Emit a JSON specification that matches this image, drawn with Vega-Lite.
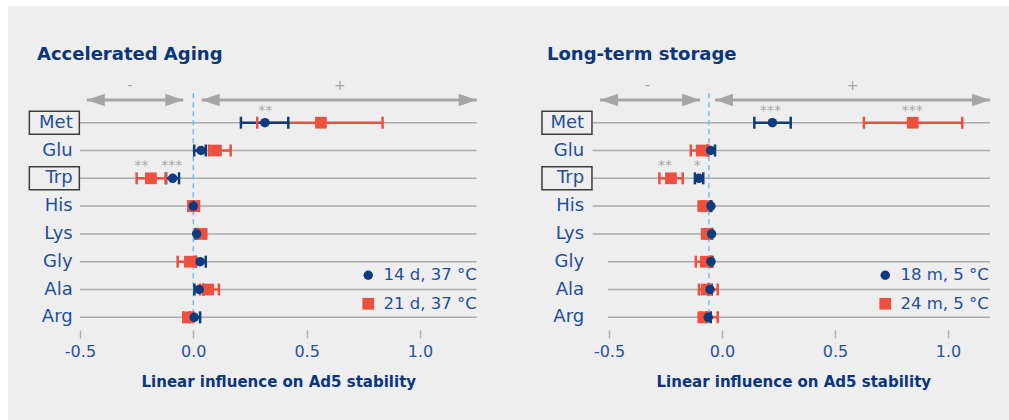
{
  "$schema": "https://vega.github.io/schema/vega-lite/v6.json",
  "background": "white",
  "padding": {"left": 8, "top": 6, "right": 0, "bottom": 0},
  "spacing": 0,
  "datasets": {
    "rows": [
      {"aa": "Met", "i": 1, "boxed": true},
      {"aa": "Glu", "i": 2, "boxed": false},
      {"aa": "Trp", "i": 3, "boxed": true},
      {"aa": "His", "i": 4, "boxed": false},
      {"aa": "Lys", "i": 5, "boxed": false},
      {"aa": "Gly", "i": 6, "boxed": false},
      {"aa": "Ala", "i": 7, "boxed": false},
      {"aa": "Arg", "i": 8, "boxed": false}
    ],
    "est": [
      {"p": "A", "s": "21 d, 37 °C", "aa": "Met", "i": 1, "v": 0.563, "lo": 0.282, "hi": 0.835},
      {"p": "A", "s": "21 d, 37 °C", "aa": "Glu", "i": 2, "v": 0.1, "lo": 0.069, "hi": 0.165},
      {"p": "A", "s": "21 d, 37 °C", "aa": "Trp", "i": 3, "v": -0.187, "lo": -0.25, "hi": -0.122},
      {"p": "A", "s": "21 d, 37 °C", "aa": "His", "i": 4, "v": 0.003, "lo": -0.022, "hi": 0.025},
      {"p": "A", "s": "21 d, 37 °C", "aa": "Lys", "i": 5, "v": 0.037, "lo": 0.02, "hi": 0.05},
      {"p": "A", "s": "21 d, 37 °C", "aa": "Gly", "i": 6, "v": -0.015, "lo": -0.069, "hi": 0.01},
      {"p": "A", "s": "21 d, 37 °C", "aa": "Ala", "i": 7, "v": 0.066, "lo": 0.03, "hi": 0.113},
      {"p": "A", "s": "21 d, 37 °C", "aa": "Arg", "i": 8, "v": -0.022, "lo": -0.044, "hi": 0.0},
      {"p": "A", "s": "14 d, 37 °C", "aa": "Met", "i": 1, "v": 0.316, "lo": 0.21, "hi": 0.419},
      {"p": "A", "s": "14 d, 37 °C", "aa": "Glu", "i": 2, "v": 0.034, "lo": 0.004, "hi": 0.055},
      {"p": "A", "s": "14 d, 37 °C", "aa": "Trp", "i": 3, "v": -0.091, "lo": -0.12, "hi": -0.063},
      {"p": "A", "s": "14 d, 37 °C", "aa": "His", "i": 4, "v": 0.0, "lo": -0.004, "hi": 0.004},
      {"p": "A", "s": "14 d, 37 °C", "aa": "Lys", "i": 5, "v": 0.015, "lo": 0.01, "hi": 0.02},
      {"p": "A", "s": "14 d, 37 °C", "aa": "Gly", "i": 6, "v": 0.03, "lo": 0.012, "hi": 0.055},
      {"p": "A", "s": "14 d, 37 °C", "aa": "Ala", "i": 7, "v": 0.026, "lo": 0.005, "hi": 0.045},
      {"p": "A", "s": "14 d, 37 °C", "aa": "Arg", "i": 8, "v": 0.004, "lo": -0.015, "hi": 0.03},
      {"p": "B", "s": "24 m, 5 °C", "aa": "Met", "i": 1, "v": 0.844, "lo": 0.628, "hi": 1.063},
      {"p": "B", "s": "24 m, 5 °C", "aa": "Glu", "i": 2, "v": -0.09, "lo": -0.138, "hi": -0.06},
      {"p": "B", "s": "24 m, 5 °C", "aa": "Trp", "i": 3, "v": -0.226, "lo": -0.277, "hi": -0.174},
      {"p": "B", "s": "24 m, 5 °C", "aa": "His", "i": 4, "v": -0.083, "lo": -0.088, "hi": -0.078},
      {"p": "B", "s": "24 m, 5 °C", "aa": "Lys", "i": 5, "v": -0.068, "lo": -0.073, "hi": -0.063},
      {"p": "B", "s": "24 m, 5 °C", "aa": "Gly", "i": 6, "v": -0.072, "lo": -0.116, "hi": -0.041},
      {"p": "B", "s": "24 m, 5 °C", "aa": "Ala", "i": 7, "v": -0.068, "lo": -0.102, "hi": -0.019},
      {"p": "B", "s": "24 m, 5 °C", "aa": "Arg", "i": 8, "v": -0.083, "lo": -0.093, "hi": -0.019},
      {"p": "B", "s": "18 m, 5 °C", "aa": "Met", "i": 1, "v": 0.223, "lo": 0.143, "hi": 0.304},
      {"p": "B", "s": "18 m, 5 °C", "aa": "Glu", "i": 2, "v": -0.05, "lo": -0.065, "hi": -0.031},
      {"p": "B", "s": "18 m, 5 °C", "aa": "Trp", "i": 3, "v": -0.102, "lo": -0.12, "hi": -0.083},
      {"p": "B", "s": "18 m, 5 °C", "aa": "His", "i": 4, "v": -0.049, "lo": -0.051, "hi": -0.047},
      {"p": "B", "s": "18 m, 5 °C", "aa": "Lys", "i": 5, "v": -0.046, "lo": -0.048, "hi": -0.044},
      {"p": "B", "s": "18 m, 5 °C", "aa": "Gly", "i": 6, "v": -0.049, "lo": -0.051, "hi": -0.047},
      {"p": "B", "s": "18 m, 5 °C", "aa": "Ala", "i": 7, "v": -0.053, "lo": -0.06, "hi": -0.045},
      {"p": "B", "s": "18 m, 5 °C", "aa": "Arg", "i": 8, "v": -0.061, "lo": -0.07, "hi": -0.05}
    ],
    "stars": [
      {"p": "A", "i": 1, "x": 0.319, "t": "**"},
      {"p": "A", "i": 3, "x": -0.228, "t": "**"},
      {"p": "A", "i": 3, "x": -0.095, "t": "***"},
      {"p": "B", "i": 1, "x": 0.215, "t": "***"},
      {"p": "B", "i": 1, "x": 0.842, "t": "***"},
      {"p": "B", "i": 3, "x": -0.252, "t": "**"},
      {"p": "B", "i": 3, "x": -0.109, "t": "*"}
    ],
    "arrows": [
      {"p": "A", "from": -0.47, "to": -0.044, "lab": "-", "lx": -0.28},
      {"p": "A", "from": 0.037, "to": 1.25, "lab": "+", "lx": 0.647},
      {"p": "B", "from": -0.54, "to": -0.097, "lab": "-", "lx": -0.33},
      {"p": "B", "from": -0.031, "to": 1.186, "lab": "+", "lx": 0.578}
    ],
    "one": [{}]
  },
  "hconcat": [
    {
      "width": 510,
      "height": 414,
      "title": {"text": "Accelerated Aging", "anchor": "start", "frame": "group", "orient": "top", "offset": -72, "dx": 29, "baseline": "alphabetic", "font": "DejaVu Sans", "fontSize": 18, "fontWeight": "bold", "color": "#0b357c"},
      "layer": [
        {
          "data": {"name": "rows"},
          "mark": {"type": "rule", "color": "#ababab", "strokeWidth": 1.5},
          "encoding": {
            "y": {"field": "i", "type": "quantitative", "scale": {"domain": [-3.198, 11.694], "reverse": true, "nice": false, "zero": false}, "axis": null},
            "x": {"datum": -0.5, "type": "quantitative", "scale": {"domain": [-0.8174, 1.4323], "nice": false, "zero": false},
              "axis": {"values": [-0.5, 0, 0.5, 1], "labelExpr": "datum.value < 0 ? '-' + format(-datum.value, '.1f') : format(datum.value, '.1f')", "offset": -90, "domain": false, "grid": false, "tickSize": 8, "tickWidth": 1.5, "tickColor": "#b0b0b0", "labelFont": "DejaVu Sans", "labelFontSize": 16, "labelColor": "#2553a0", "labelPadding": 5, "title": "Linear influence on Ad5 stability", "titleFont": "DejaVu Sans", "titleFontSize": 15, "titleFontWeight": "bold", "titleColor": "#0b357c", "titleX": 270.3, "titleY": 56.7, "titleBaseline": "alphabetic", "titleAlign": "center"}},
            "x2": {"datum": 1.25}
          }
        },
        {
          "data": {"name": "one"},
          "mark": {"type": "rule", "color": "#7ab8e0", "strokeWidth": 1.5, "strokeDash": [5, 4]},
          "encoding": {"x": {"datum": 0}, "y": {"datum": -0.06}, "y2": {"datum": 8.2}}
        },
        {
          "data": {"name": "arrows"},
          "transform": [{"filter": "datum.p == 'A'"}],
          "layer": [
            {"mark": {"type": "rule", "color": "#a5a5a5", "strokeWidth": 3}, "encoding": {"x": {"field": "from", "type": "quantitative"}, "x2": {"field": "to"}, "y": {"datum": 0.183}}},
            {"mark": {"type": "point", "shape": "M0,0L2,-0.7L2,0.7Z", "filled": true, "color": "#a5a5a5", "opacity": 1, "size": 324}, "encoding": {"x": {"field": "from", "type": "quantitative"}, "y": {"datum": 0.183}}},
            {"mark": {"type": "point", "shape": "M0,0L-2,-0.7L-2,0.7Z", "filled": true, "color": "#a5a5a5", "opacity": 1, "size": 324}, "encoding": {"x": {"field": "to", "type": "quantitative"}, "y": {"datum": 0.183}}},
            {"mark": {"type": "text", "color": "#a5a5a5", "fontSize": 14, "baseline": "middle", "font": "DejaVu Sans"}, "encoding": {"x": {"field": "lx", "type": "quantitative"}, "y": {"datum": -0.33}, "text": {"field": "lab"}}}
          ]
        },
        {
          "data": {"name": "est"},
          "transform": [{"filter": "datum.p == 'A'"}],
          "layer": [
            {"mark": {"type": "rule", "strokeWidth": 2.5}, "encoding": {"x": {"field": "lo", "type": "quantitative"}, "x2": {"field": "hi"}, "y": {"field": "i", "type": "quantitative"}, "color": {"field": "s", "type": "nominal", "scale": {"domain": ["14 d, 37 °C", "21 d, 37 °C"], "range": ["#0e3a7e", "#ef4f3d"]}}}},
            {"mark": {"type": "tick", "orient": "vertical", "size": 12, "thickness": 2.5, "opacity": 1}, "encoding": {"x": {"field": "lo", "type": "quantitative"}, "y": {"field": "i", "type": "quantitative"}, "color": {"field": "s", "type": "nominal"}}},
            {"mark": {"type": "tick", "orient": "vertical", "size": 12, "thickness": 2.5, "opacity": 1}, "encoding": {"x": {"field": "hi", "type": "quantitative"}, "y": {"field": "i", "type": "quantitative"}, "color": {"field": "s", "type": "nominal"}}},
            {"mark": {"type": "point", "filled": true, "opacity": 1},
              "encoding": {
                "x": {"field": "v", "type": "quantitative"},
                "y": {"field": "i", "type": "quantitative"},
                "color": {"field": "s", "type": "nominal", "legend": {"title": null, "orient": "none", "legendX": 352, "legendY": 261}},
                "shape": {"field": "s", "type": "nominal", "scale": {"domain": ["14 d, 37 °C", "21 d, 37 °C"], "range": ["circle", "square"]}, "legend": {"title": null, "orient": "none", "legendX": 352, "legendY": 261}},
                "size": {"field": "s", "type": "nominal", "scale": {"domain": ["14 d, 37 °C", "21 d, 37 °C"], "range": [90, 137]}, "legend": {"title": null, "orient": "none", "legendX": 352, "legendY": 261}}
              }
            }
          ]
        },
        {
          "data": {"name": "stars"},
          "transform": [{"filter": "datum.p == 'A'"}],
          "mark": {"type": "text", "color": "#a8a8a8", "fontSize": 14, "baseline": "middle", "dy": -12, "font": "DejaVu Sans"},
          "encoding": {"x": {"field": "x", "type": "quantitative"}, "y": {"field": "i", "type": "quantitative"}, "text": {"field": "t"}}
        },
        {
          "data": {"name": "rows"},
          "mark": {"type": "text", "align": "right", "baseline": "middle", "fontSize": 18, "color": "#1e4e9e", "font": "DejaVu Sans"},
          "encoding": {"x": {"datum": -0.532}, "y": {"field": "i", "type": "quantitative"}, "text": {"field": "aa"}}
        },
        {
          "data": {"name": "rows"},
          "transform": [{"filter": "datum.boxed"}],
          "mark": {"type": "point", "shape": "M-1,-0.46H1V0.46H-1Z", "filled": false, "stroke": "#3c3c3c", "strokeWidth": 1.5, "size": 2500, "opacity": 1},
          "encoding": {"x": {"datum": -0.613}, "y": {"field": "i", "type": "quantitative"}}
        }
      ]
    },
    {
      "width": 491,
      "height": 414,
      "title": {"text": "Long-term storage", "anchor": "start", "frame": "group", "orient": "top", "offset": -72, "dx": 29, "baseline": "alphabetic", "font": "DejaVu Sans", "fontSize": 18, "fontWeight": "bold", "color": "#0b357c"},
      "layer": [
        {
          "data": {"name": "rows"},
          "transform": [{"filter": "datum.i <= 5"}],
          "mark": {"type": "rule", "color": "#ababab", "strokeWidth": 1.5},
          "encoding": {
            "y": {"field": "i", "type": "quantitative", "scale": {"domain": [-3.198, 11.694], "reverse": true, "nice": false, "zero": false}, "axis": null},
            "x": {"datum": -0.572, "type": "quantitative", "scale": {"domain": [-0.9027, 1.2699], "nice": false, "zero": false},
              "axis": {"values": [-0.5, 0, 0.5, 1], "labelExpr": "datum.value < 0 ? '-' + format(-datum.value, '.1f') : format(datum.value, '.1f')", "offset": -90, "domain": false, "grid": false, "tickSize": 8, "tickWidth": 1.5, "tickColor": "#b0b0b0", "labelFont": "DejaVu Sans", "labelFontSize": 16, "labelColor": "#2553a0", "labelPadding": 5, "title": "Linear influence on Ad5 stability", "titleFont": "DejaVu Sans", "titleFontSize": 15, "titleFontWeight": "bold", "titleColor": "#0b357c", "titleX": 275.3, "titleY": 56.7, "titleBaseline": "alphabetic", "titleAlign": "center"}},
            "x2": {"datum": 1.186}
          }
        },
        {
          "data": {"name": "rows"},
          "transform": [{"filter": "datum.i > 5"}],
          "mark": {"type": "rule", "color": "#ababab", "strokeWidth": 1.5},
          "encoding": {"y": {"field": "i", "type": "quantitative"}, "x": {"datum": -0.505}, "x2": {"datum": 1.186}}
        },
        {
          "data": {"name": "one"},
          "mark": {"type": "rule", "color": "#7ab8e0", "strokeWidth": 1.5, "strokeDash": [5, 4]},
          "encoding": {"x": {"datum": -0.058}, "y": {"datum": -0.06}, "y2": {"datum": 8.2}}
        },
        {
          "data": {"name": "arrows"},
          "transform": [{"filter": "datum.p == 'B'"}],
          "layer": [
            {"mark": {"type": "rule", "color": "#a5a5a5", "strokeWidth": 3}, "encoding": {"x": {"field": "from", "type": "quantitative"}, "x2": {"field": "to"}, "y": {"datum": 0.183}}},
            {"mark": {"type": "point", "shape": "M0,0L2,-0.7L2,0.7Z", "filled": true, "color": "#a5a5a5", "opacity": 1, "size": 324}, "encoding": {"x": {"field": "from", "type": "quantitative"}, "y": {"datum": 0.183}}},
            {"mark": {"type": "point", "shape": "M0,0L-2,-0.7L-2,0.7Z", "filled": true, "color": "#a5a5a5", "opacity": 1, "size": 324}, "encoding": {"x": {"field": "to", "type": "quantitative"}, "y": {"datum": 0.183}}},
            {"mark": {"type": "text", "color": "#a5a5a5", "fontSize": 14, "baseline": "middle", "font": "DejaVu Sans"}, "encoding": {"x": {"field": "lx", "type": "quantitative"}, "y": {"datum": -0.33}, "text": {"field": "lab"}}}
          ]
        },
        {
          "data": {"name": "est"},
          "transform": [{"filter": "datum.p == 'B'"}],
          "layer": [
            {"mark": {"type": "rule", "strokeWidth": 2.5}, "encoding": {"x": {"field": "lo", "type": "quantitative"}, "x2": {"field": "hi"}, "y": {"field": "i", "type": "quantitative"}, "color": {"field": "s", "type": "nominal", "scale": {"domain": ["18 m, 5 °C", "24 m, 5 °C"], "range": ["#0e3a7e", "#ef4f3d"]}}}},
            {"mark": {"type": "tick", "orient": "vertical", "size": 12, "thickness": 2.5, "opacity": 1}, "encoding": {"x": {"field": "lo", "type": "quantitative"}, "y": {"field": "i", "type": "quantitative"}, "color": {"field": "s", "type": "nominal"}}},
            {"mark": {"type": "tick", "orient": "vertical", "size": 12, "thickness": 2.5, "opacity": 1}, "encoding": {"x": {"field": "hi", "type": "quantitative"}, "y": {"field": "i", "type": "quantitative"}, "color": {"field": "s", "type": "nominal"}}},
            {"mark": {"type": "point", "filled": true, "opacity": 1},
              "encoding": {
                "x": {"field": "v", "type": "quantitative"},
                "y": {"field": "i", "type": "quantitative"},
                "color": {"field": "s", "type": "nominal", "legend": {"title": null, "orient": "none", "legendX": 359, "legendY": 261}},
                "shape": {"field": "s", "type": "nominal", "scale": {"domain": ["18 m, 5 °C", "24 m, 5 °C"], "range": ["circle", "square"]}, "legend": {"title": null, "orient": "none", "legendX": 359, "legendY": 261}},
                "size": {"field": "s", "type": "nominal", "scale": {"domain": ["18 m, 5 °C", "24 m, 5 °C"], "range": [90, 137]}, "legend": {"title": null, "orient": "none", "legendX": 359, "legendY": 261}}
              }
            }
          ]
        },
        {
          "data": {"name": "stars"},
          "transform": [{"filter": "datum.p == 'B'"}],
          "mark": {"type": "text", "color": "#a8a8a8", "fontSize": 14, "baseline": "middle", "dy": -12, "font": "DejaVu Sans"},
          "encoding": {"x": {"field": "x", "type": "quantitative"}, "y": {"field": "i", "type": "quantitative"}, "text": {"field": "t"}}
        },
        {
          "data": {"name": "rows"},
          "mark": {"type": "text", "align": "right", "baseline": "middle", "fontSize": 18, "color": "#1e4e9e", "font": "DejaVu Sans"},
          "encoding": {"x": {"datum": -0.61}, "y": {"field": "i", "type": "quantitative"}, "text": {"field": "aa"}}
        },
        {
          "data": {"name": "rows"},
          "transform": [{"filter": "datum.boxed"}],
          "mark": {"type": "point", "shape": "M-1,-0.46H1V0.46H-1Z", "filled": false, "stroke": "#3c3c3c", "strokeWidth": 1.5, "size": 2500, "opacity": 1},
          "encoding": {"x": {"datum": -0.686}, "y": {"field": "i", "type": "quantitative"}}
        }
      ]
    }
  ],
  "resolve": {
    "scale": {"x": "independent", "y": "independent", "color": "independent", "shape": "independent", "size": "independent"},
    "legend": {"color": "independent", "shape": "independent", "size": "independent"}
  },
  "config": {
    "view": {"fill": "#eeeeee", "stroke": null},
    "concat": {"spacing": 0},
    "legend": {"labelFont": "DejaVu Sans", "labelFontSize": 16.5, "labelColor": "#1e4e9e", "symbolStrokeWidth": 0, "rowPadding": 11.5, "labelOffset": 7, "padding": 0},
    "text": {"font": "DejaVu Sans"}
  }
}
